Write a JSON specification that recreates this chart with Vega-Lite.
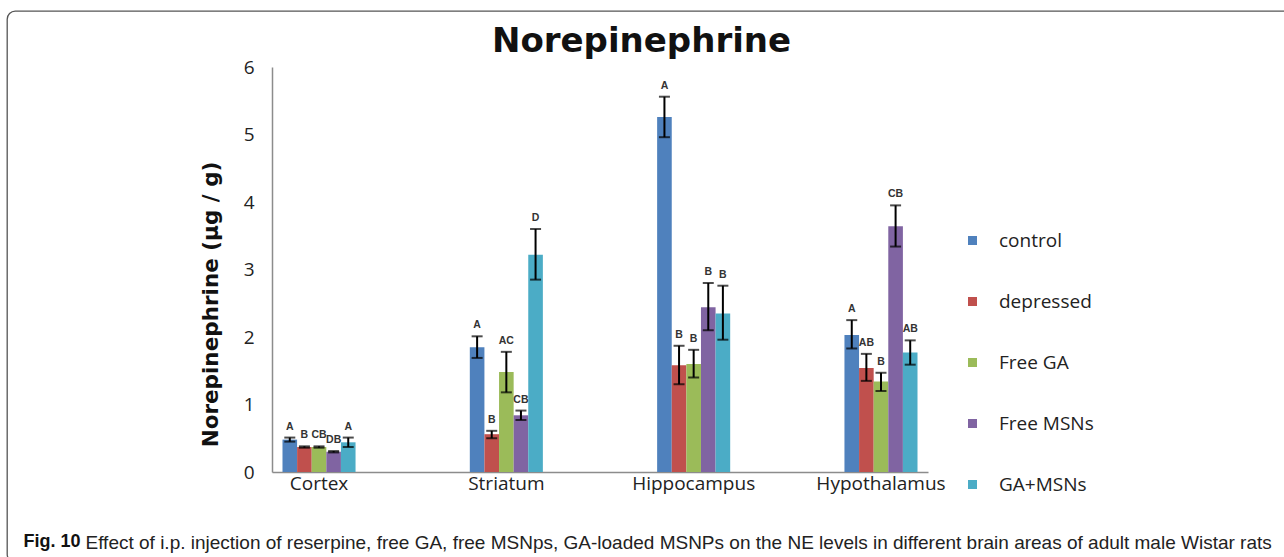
{
  "$schema": "https://vega.github.io/schema/vega-lite/v6.json",
  "width": 1287,
  "height": 551,
  "autosize": {"type": "none"},
  "padding": {"left": 7, "top": 11, "right": -10, "bottom": -5},
  "background": "white",
  "title": {
    "text": "Norepinephrine",
    "orient": "top",
    "anchor": "middle",
    "frame": "group",
    "offset": -65,
    "dx": -9,
    "baseline": "middle",
    "font": "DejaVu Sans",
    "fontSize": 34,
    "fontWeight": "bold",
    "color": "#111111"
  },
  "data": {
    "values": [
      {"region": "Cortex", "group": "control", "value": 0.48, "lo": 0.45, "hi": 0.51, "letter": "A"},
      {"region": "Cortex", "group": "depressed", "value": 0.37, "lo": 0.36, "hi": 0.38, "letter": "B"},
      {"region": "Cortex", "group": "Free GA", "value": 0.37, "lo": 0.36, "hi": 0.38, "letter": "CB"},
      {"region": "Cortex", "group": "Free MSNs", "value": 0.30, "lo": 0.29, "hi": 0.31, "letter": "DB"},
      {"region": "Cortex", "group": "GA+MSNs", "value": 0.44, "lo": 0.37, "hi": 0.51, "letter": "A"},
      {"region": "Striatum", "group": "control", "value": 1.85, "lo": 1.69, "hi": 2.01, "letter": "A"},
      {"region": "Striatum", "group": "depressed", "value": 0.56, "lo": 0.50, "hi": 0.61, "letter": "B"},
      {"region": "Striatum", "group": "Free GA", "value": 1.48, "lo": 1.18, "hi": 1.78, "letter": "AC"},
      {"region": "Striatum", "group": "Free MSNs", "value": 0.84, "lo": 0.77, "hi": 0.91, "letter": "CB"},
      {"region": "Striatum", "group": "GA+MSNs", "value": 3.22, "lo": 2.85, "hi": 3.60, "letter": "D"},
      {"region": "Hippocampus", "group": "control", "value": 5.26, "lo": 4.96, "hi": 5.56, "letter": "A"},
      {"region": "Hippocampus", "group": "depressed", "value": 1.58, "lo": 1.30, "hi": 1.87, "letter": "B"},
      {"region": "Hippocampus", "group": "Free GA", "value": 1.60, "lo": 1.40, "hi": 1.81, "letter": "B"},
      {"region": "Hippocampus", "group": "Free MSNs", "value": 2.44, "lo": 2.10, "hi": 2.80, "letter": "B"},
      {"region": "Hippocampus", "group": "GA+MSNs", "value": 2.35, "lo": 1.96, "hi": 2.76, "letter": "B"},
      {"region": "Hypothalamus", "group": "control", "value": 2.03, "lo": 1.83, "hi": 2.25, "letter": "A"},
      {"region": "Hypothalamus", "group": "depressed", "value": 1.54, "lo": 1.35, "hi": 1.75, "letter": "AB"},
      {"region": "Hypothalamus", "group": "Free GA", "value": 1.34, "lo": 1.20, "hi": 1.47, "letter": "B"},
      {"region": "Hypothalamus", "group": "Free MSNs", "value": 3.64, "lo": 3.34, "hi": 3.95, "letter": "CB"},
      {"region": "Hypothalamus", "group": "GA+MSNs", "value": 1.77, "lo": 1.59, "hi": 1.95, "letter": "AB"}
    ]
  },
  "encoding": {
    "x": {
      "field": "region",
      "type": "nominal",
      "sort": ["Cortex", "Striatum", "Hippocampus", "Hypothalamus"],
      "scale": {"range": [265, 921], "paddingInner": 0.61, "paddingOuter": 0.056},
      "axis": {
        "orient": "bottom",
        "offset": -90,
        "labelAngle": 0,
        "labelFont": "Open Sans",
        "labelFontSize": 19,
        "labelColor": "#222222",
        "labelPadding": 2,
        "ticks": false,
        "grid": false,
        "domainColor": "#8c8c8c",
        "domainWidth": 1.5,
        "title": "Effect of i.p. injection of reserpine, free GA, free MSNps, GA-loaded MSNPs on the NE levels in different brain areas of adult male Wistar rats",
        "titleFont": "Liberation Sans",
        "titleFontSize": 19,
        "titleFontWeight": "normal",
        "titleColor": "#222222",
        "titleAlign": "left",
        "titleBaseline": "middle",
        "titleX": 78,
        "titleY": 70
      }
    },
    "xOffset": {
      "field": "group",
      "type": "nominal",
      "sort": ["control", "depressed", "Free GA", "Free MSNs", "GA+MSNs"],
      "scale": {"paddingInner": 0, "paddingOuter": 0}
    }
  },
  "layer": [
    {
      "mark": {"type": "bar"},
      "encoding": {
        "y": {
          "field": "value",
          "type": "quantitative",
          "scale": {"domain": [0, 6], "range": [461, 56], "nice": false, "zero": true},
          "axis": {
            "orient": "left",
            "offset": -265,
            "values": [0, 1, 2, 3, 4, 5, 6],
            "labelFont": "Open Sans",
            "labelFontSize": 19,
            "labelColor": "#222222",
            "labelPadding": 18,
            "ticks": false,
            "grid": false,
            "domainColor": "#8c8c8c",
            "domainWidth": 1.5,
            "title": "Norepinephrine (µg / g)",
            "titleFont": "DejaVu Sans",
            "titleFontSize": 21.5,
            "titleFontWeight": "bold",
            "titleColor": "#111111",
            "titleAngle": 270,
            "titleAlign": "center",
            "titleBaseline": "middle",
            "titleX": -61,
            "titleY": 293
          }
        },
        "color": {
          "field": "group",
          "type": "nominal",
          "sort": ["control", "depressed", "Free GA", "Free MSNs", "GA+MSNs"],
          "scale": {
            "domain": ["control", "depressed", "Free GA", "Free MSNs", "GA+MSNs"],
            "range": ["#4F81BD", "#C0504D", "#9BBB59", "#8064A2", "#4BACC6"]
          },
          "legend": {
            "orient": "none",
            "legendX": 956,
            "legendY": 220,
            "title": null,
            "padding": 0,
            "symbolType": "square",
            "symbolSize": 81,
            "symbolStrokeWidth": 0,
            "symbolOpacity": 1,
            "labelFont": "Open Sans",
            "labelFontSize": 19,
            "labelColor": "#222222",
            "labelOffset": 17,
            "rowPadding": 41
          }
        }
      }
    },
    {
      "mark": {"type": "rule", "color": "#000000", "strokeWidth": 2},
      "encoding": {
        "y": {
          "field": "hi",
          "type": "quantitative",
          "scale": {"domain": [0, 6], "range": [461, 56], "nice": false, "zero": true},
          "axis": {
            "orient": "right",
            "offset": 0,
            "domain": false,
            "labels": false,
            "ticks": false,
            "grid": false,
            "title": "Fig. 10",
            "titleFont": "Liberation Sans",
            "titleFontSize": 18,
            "titleFontWeight": "bold",
            "titleColor": "#111111",
            "titleAngle": 0,
            "titleAlign": "left",
            "titleBaseline": "middle",
            "titleX": -1271,
            "titleY": 530
          }
        },
        "y2": {"field": "lo"}
      }
    },
    {
      "mark": {"type": "tick", "color": "#000000", "thickness": 2, "size": 11},
      "encoding": {
        "y": {"field": "hi", "type": "quantitative", "axis": null}
      }
    },
    {
      "mark": {"type": "tick", "color": "#000000", "thickness": 2, "size": 11},
      "encoding": {
        "y": {"field": "lo", "type": "quantitative", "axis": null}
      }
    },
    {
      "mark": {"type": "text", "font": "Liberation Sans", "fontSize": 10.5, "fontWeight": "bold", "color": "#333333", "dy": -11, "baseline": "middle"},
      "encoding": {
        "y": {"field": "hi", "type": "quantitative", "axis": null},
        "text": {"field": "letter"}
      }
    }
  ],
  "resolve": {"axis": {"y": "independent"}},
  "config": {
    "view": {"stroke": "#555555", "strokeWidth": 1.3, "cornerRadius": 8, "fill": "white"}
  }
}
